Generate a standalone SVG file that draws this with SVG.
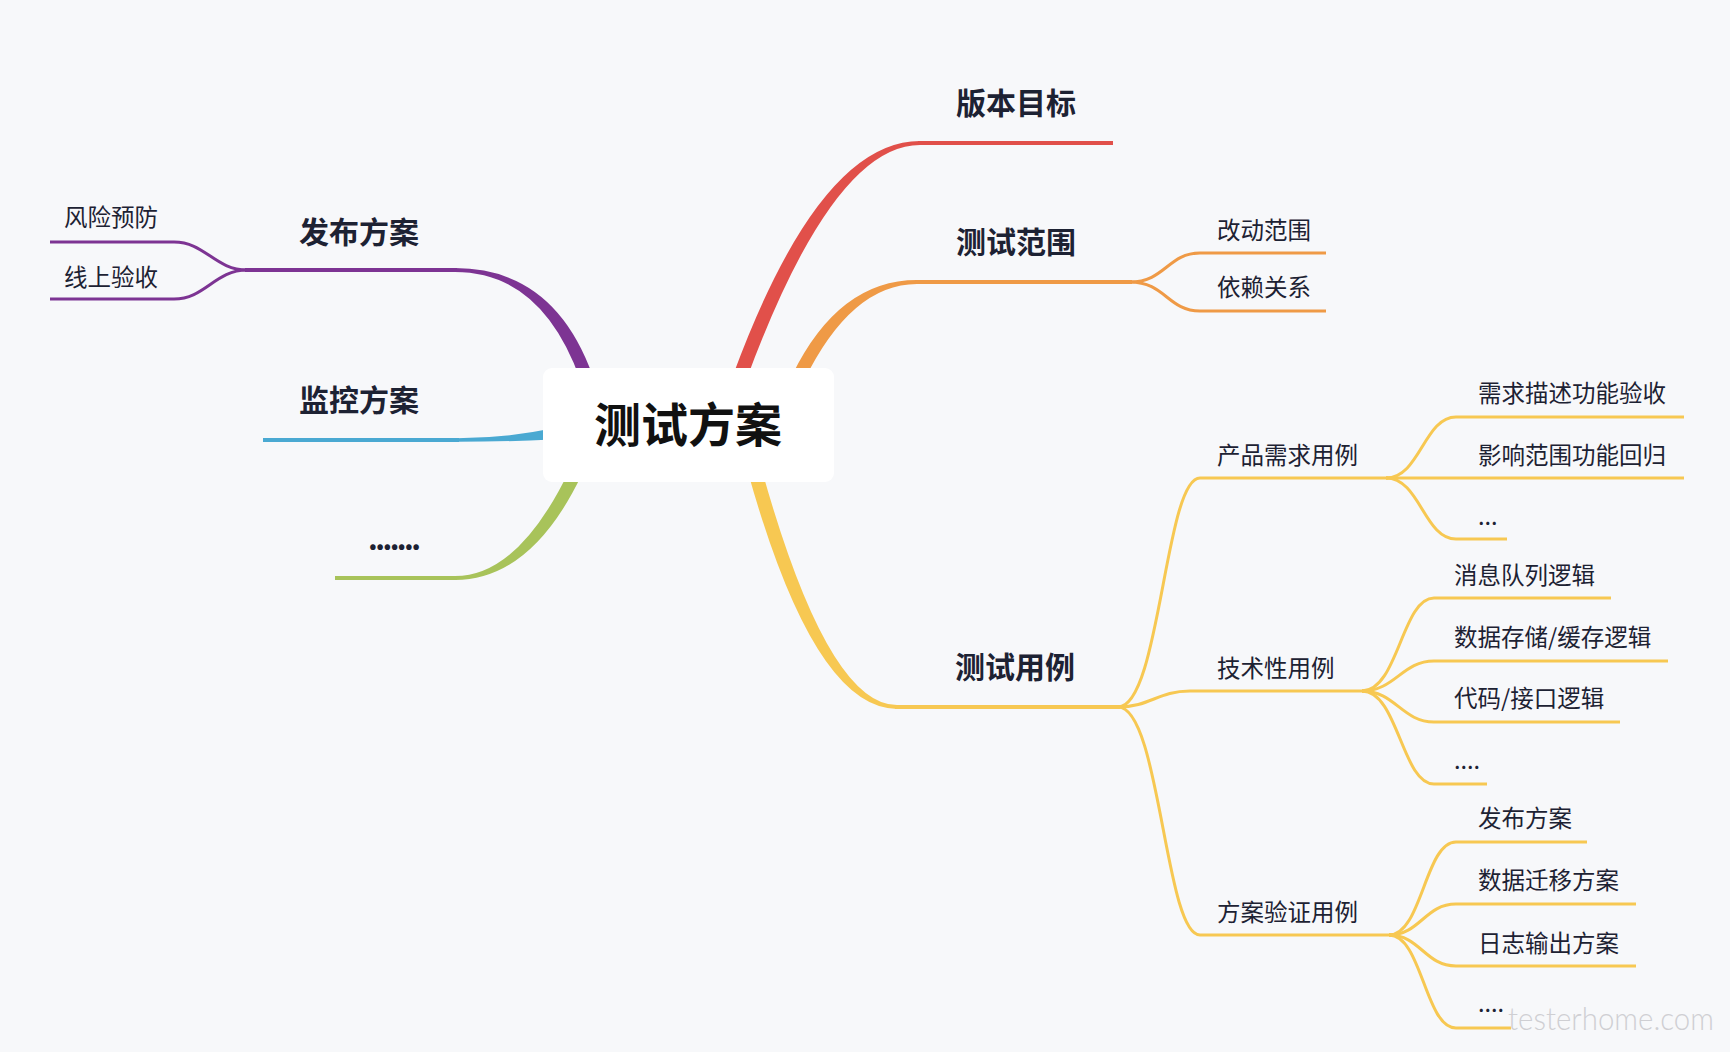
<svg xmlns="http://www.w3.org/2000/svg" width="1730" height="1052" viewBox="0 0 1730 1052">
<style>
.bg{fill:#F7F8FA}
.lbl{font-family:"Noto Sans CJK SC","Noto Sans",sans-serif;fill:#1D2233}
.main{font-size:30px;font-weight:700}
.sub{font-size:23.5px;font-weight:400}
.root{font-family:"Noto Sans CJK SC","Noto Sans",sans-serif;font-size:47px;font-weight:700;fill:#111111}
.ln{fill:none;stroke-width:3;stroke-linecap:butt}
.hz{fill:none;stroke-width:3.8}
.red{stroke:#E1504A}.redf{fill:#E1504A}
.org{stroke:#EF9A46}.orgf{fill:#EF9A46}
.yel{stroke:#F7C852}.yelf{fill:#F7C852}
.pur{stroke:#7D3493}.purf{fill:#7D3493}
.blu{stroke:#4AA9D2}.bluf{fill:#4AA9D2}
.grn{stroke:#A8C35A}.grnf{fill:#A8C35A}
.wm{font-family:Lato,"DejaVu Sans",sans-serif;font-size:32px;font-weight:300;fill:#CFCFD3}
</style>
<rect class="bg" x="0" y="0" width="1730" height="1052"/>
<g id="connectors">
  <path class="redf" d="M746.1,380.4 Q832.8,144.9 920,144.9 L920,141.1 Q819.2,141.1 732.9,375.6 Z"/>
  <path class="hz red" d="M918,143 L1113,143"/>
  <path class="orgf" d="M803.8,380.9 Q851.3,283.9 917,283.9 L917,280.1 Q838.7,280.1 792.2,375.1 Z"/>
  <path class="hz org" d="M915,282 L1132,282"/>
  <path class="ln org" d="M1130,282 C1165,282 1168,253 1200,253 L1326,253"/>
  <path class="ln org" d="M1130,282 C1165,282 1168,311 1200,311 L1326,311"/>
  <path class="yelf" d="M748.5,473.9 Q814.3,708.9 897,708.9 L897,705.1 Q827.7,705.1 761.9,470.1 Z"/>
  <path class="hz yel" d="M895,707 L1120,707"/>
  <path class="ln yel" d="M1118,707 C1160,707 1165,478 1200,478 L1388,478"/>
  <path class="ln yel" d="M1118,707 C1150,707 1158,691 1190,691 L1364,691"/>
  <path class="ln yel" d="M1118,707 C1160,707 1165,935 1200,935 L1391,935"/>
  <path class="ln yel" d="M1386,478 C1420,478 1424,417 1456,417 L1684,417"/>
  <path class="ln yel" d="M1386,478 L1684,478"/>
  <path class="ln yel" d="M1386,478 C1420,478 1424,539 1456,539 L1507,539"/>
  <path class="ln yel" d="M1362,691 C1398,691 1402,598 1434,598 L1611,598"/>
  <path class="ln yel" d="M1362,691 C1395,691 1402,661 1434,661 L1668,661"/>
  <path class="ln yel" d="M1362,691 C1395,691 1402,722 1434,722 L1620,722"/>
  <path class="ln yel" d="M1362,691 C1398,691 1402,784 1434,784 L1487,784"/>
  <path class="ln yel" d="M1389,935 C1422,935 1425,842 1456,842 L1587,842"/>
  <path class="ln yel" d="M1389,935 C1420,935 1425,904 1456,904 L1636,904"/>
  <path class="ln yel" d="M1389,935 C1420,935 1425,966 1456,966 L1636,966"/>
  <path class="ln yel" d="M1389,935 C1422,935 1425,1028 1456,1028 L1511,1028"/>
  <path class="purf" d="M592.7,375.8 Q554.2,268.1 455,268.1 L455,271.9 Q541.8,271.9 580.5,380.2 Z"/>
  <path class="hz pur" d="M457,270 L245,270"/>
  <path class="ln pur" d="M247,270 C215,270 205,242 174,242 L50,242"/>
  <path class="ln pur" d="M247,270 C215,270 205,299 174,299 L50,299"/>
  <path class="bluf" d="M552,428.5 Q505,438.2 457,438.2 L457,441.8 Q505,441.8 552,439.5 Z"/>
  <path class="hz blu" d="M459,440 L263,440"/>
  <path class="grnf" d="M569.9,469.2 Q518.7,576.1 455,576.1 L455,579.9 Q531.3,579.9 581.7,474.8 Z"/>
  <path class="hz grn" d="M457,578 L335,578"/>
</g>
<g id="node-root">
  <rect x="543" y="368" width="291" height="114" rx="9" fill="#FFFFFF"/>
  <text class="root" x="688" y="442" text-anchor="middle">测试方案</text>
</g>
<g id="node-banben"><text class="lbl main" x="956" y="114">版本目标</text></g>
<g id="node-fanwei"><text class="lbl main" x="956" y="253">测试范围</text></g>
<g id="node-gaidong"><text class="lbl sub" x="1217" y="239">改动范围</text></g>
<g id="node-yilai"><text class="lbl sub" x="1217" y="296">依赖关系</text></g>
<g id="node-yongli"><text class="lbl main" x="955" y="678">测试用例</text></g>
<g id="node-chanpin"><text class="lbl sub" x="1217" y="464">产品需求用例</text></g>
<g id="node-xuqiu"><text class="lbl sub" x="1478" y="402">需求描述功能验收</text></g>
<g id="node-yingxiang"><text class="lbl sub" x="1478" y="464">影响范围功能回归</text></g>
<g id="node-cp-more"><text class="lbl sub" x="1478" y="525">...</text></g>
<g id="node-jishu"><text class="lbl sub" x="1217" y="677">技术性用例</text></g>
<g id="node-xiaoxi"><text class="lbl sub" x="1454" y="584">消息队列逻辑</text></g>
<g id="node-shuju"><text class="lbl sub" x="1454" y="646">数据存储/缓存逻辑</text></g>
<g id="node-daima"><text class="lbl sub" x="1454" y="707">代码/接口逻辑</text></g>
<g id="node-js-more"><text class="lbl sub" x="1454" y="769">....</text></g>
<g id="node-fangan"><text class="lbl sub" x="1217" y="921">方案验证用例</text></g>
<g id="node-fabu2"><text class="lbl sub" x="1478" y="827">发布方案</text></g>
<g id="node-qianyi"><text class="lbl sub" x="1478" y="889">数据迁移方案</text></g>
<g id="node-rizhi"><text class="lbl sub" x="1478" y="952">日志输出方案</text></g>
<g id="node-fa-more"><text class="lbl sub" x="1478" y="1012">....</text></g>
<g id="node-fabu"><text class="lbl main" x="299" y="243">发布方案</text></g>
<g id="node-fengxian"><text class="lbl sub" x="64" y="226">风险预防</text></g>
<g id="node-xianshang"><text class="lbl sub" x="64" y="286">线上验收</text></g>
<g id="node-jiankong"><text class="lbl main" x="299" y="411">监控方案</text></g>
<g id="node-more"><text class="lbl main" x="368" y="550" textLength="53" lengthAdjust="spacing">.......</text></g>
<text class="wm" x="1508" y="1030" textLength="206" lengthAdjust="spacingAndGlyphs">testerhome.com</text>
</svg>
